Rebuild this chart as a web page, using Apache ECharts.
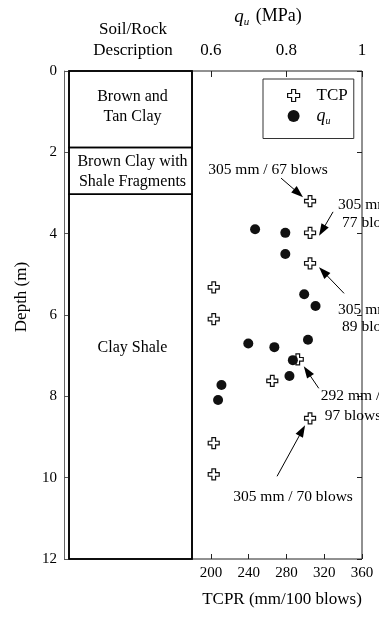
<!DOCTYPE html>
<html>
<head>
<meta charset="utf-8">
<script src="https://cdn.jsdelivr.net/npm/echarts@6/dist/echarts.min.js"></script>
<style>
  html, body { margin: 0; padding: 0; background: #fff; }
  #chart { width: 379px; height: 617px; }
</style>
</head>
<body>
<div id="chart"></div>
<script>
// Soil profile (depths in m)
const layerTop = [0, 1.88, 3.03];
const layerBottom = [1.88, 3.03, 12];
const layerNames = ['Brown and\nTan Clay', 'Brown Clay with\nShale Fragments', 'Clay Shale'];
const layerLabelDepth = [0.88, 2.48, 6.8];

// TCP penetration rate (mm/100 blows) against depth (m)
const tcpDepth = [3.20, 3.98, 4.73, 5.32, 6.10, 7.09, 7.62, 8.54, 9.15, 9.92];
const tcpRate = [305, 305, 305, 203, 203, 292, 265, 305, 203, 203];

// Unconfined compressive strength q_u (MPa) against depth (m)
const quDepth = [3.89, 3.98, 4.50, 5.49, 5.78, 6.61, 6.70, 6.79, 7.11, 7.50, 7.72, 8.09];
const quValue = [0.717, 0.797, 0.797, 0.847, 0.877, 0.857, 0.699, 0.768, 0.817, 0.808, 0.628, 0.619];

// Tick labels
const depthTicks = [0, 2, 4, 6, 8, 10, 12];
const tcprTicks = [200, 240, 280, 320, 360];
const quTicks = [0.6, 0.8, 1.0];

// Tests that reached refusal before 100 blows
const noteIndex = [0, 1, 2, 5, 7];
const noteLines = [
  ['305 mm / 67 blows'],
  ['305 mm /', '77 blows'],
  ['305 mm /', '89 blows'],
  ['292 mm /', '97 blows'],
  ['305 mm / 70 blows']
];

// Pixel offsets (from the marker) of each note's text and arrow
const noteLayout = [
  { text: [[-42, -31]], align: 'center', tail: [-29, -23], head: [-7, -4] },
  { text: [[28, -28], [32, -10]], align: 'left', tail: [23, -21], head: [9, 3] },
  { text: [[28, 47], [32, 64]], align: 'left', tail: [34, 30], head: [9, 4] },
  { text: [[23, 37], [27, 57]], align: 'left', tail: [21, 29], head: [6, 7] },
  { text: [[-17, 79]], align: 'center', tail: [-33, 58], head: [-5, 7] }
];

const FONT = '"Liberation Serif", "DejaVu Serif", serif';
const crossPath = 'path://M4,0 H8 V4 H12 V8 H8 V12 H4 V8 H0 V4 H4 Z';

const chart = echarts.init(document.getElementById('chart'), null, { renderer: 'canvas' });

const layerData = layerTop.map((t, i) => [t, layerBottom[i], layerLabelDepth[i], layerNames[i]]);

const option = {
  animation: false,
  textStyle: { fontFamily: FONT, color: '#000' },
  grid: [
    { left: 69, top: 71, width: 123, height: 488, show: true, borderColor: '#000', borderWidth: 1.5, backgroundColor: 'transparent' },
    { left: 192, top: 71, width: 170, height: 488, show: true, borderColor: '#222', borderWidth: 1, backgroundColor: 'transparent' }
  ],
  xAxis: [
    {
      gridIndex: 0, type: 'value', min: 0, max: 1, position: 'top',
      axisLine: { show: false, onZero: false }, axisTick: { show: false }, axisLabel: { show: false }, splitLine: { show: false },
      name: 'Soil/Rock\nDescription', nameLocation: 'middle', nameGap: 10,
      nameTextStyle: { fontFamily: FONT, fontSize: 17, lineHeight: 21, color: '#000', padding: [0, 0, 0, 5] }
    },
    {
      gridIndex: 1, type: 'value', min: 180, max: 360, position: 'bottom',
      axisLine: { show: false, onZero: false },
      axisTick: { show: true, inside: true, length: 5, customValues: tcprTicks, lineStyle: { color: '#222' } },
      axisLabel: { show: true, customValues: tcprTicks, margin: 7, fontFamily: FONT, fontSize: 15, color: '#000' },
      splitLine: { show: false },
      name: 'TCPR (mm/100 blows)', nameLocation: 'middle', nameGap: 32,
      nameTextStyle: { fontFamily: FONT, fontSize: 17, color: '#000', padding: [0, 0, 0, 10] }
    },
    {
      gridIndex: 1, type: 'value', min: 0.55, max: 1.0, position: 'top',
      axisLine: { show: false, onZero: false },
      axisTick: { show: false },
      axisLabel: { show: true, customValues: quTicks, margin: 12, fontFamily: FONT, fontSize: 17, color: '#000',
        formatter: v => String(Math.round(v * 10) / 10) },
      splitLine: { show: false },
      name: '{q|q}{u|u} (MPa)', nameLocation: 'middle', nameGap: 43,
      nameTextStyle: {
        fontFamily: FONT, fontSize: 18, color: '#000', padding: [0, 18, 0, 0],
        rich: {
          q: { fontFamily: FONT, fontStyle: 'italic', fontSize: 19, color: '#000' },
          u: { fontFamily: FONT, fontStyle: 'italic', fontSize: 11, color: '#000', padding: [12, 2, 0, 0] }
        }
      }
    }
  ],
  yAxis: [
    {
      gridIndex: 0, type: 'value', inverse: true, min: 0, max: 12, interval: 2, offset: 5, position: 'left',
      axisLine: { show: true, onZero: false, lineStyle: { color: '#666', width: 1 } },
      axisTick: { show: true, inside: true, length: 5, lineStyle: { color: '#555' } },
      axisLabel: { show: true, margin: 7, fontFamily: FONT, fontSize: 15, color: '#000',
        customValues: depthTicks },
      splitLine: { show: false },
      name: 'Depth (m)', nameLocation: 'middle', nameGap: 34, nameRotate: 90,
      nameTextStyle: { fontFamily: FONT, fontSize: 17, color: '#000', padding: [0, 0, 0, 36] }
    },
    {
      gridIndex: 1, type: 'value', inverse: true, min: 0, max: 12, interval: 2, position: 'right',
      axisLine: { show: false, onZero: false },
      axisTick: { show: true, inside: true, length: 5, lineStyle: { color: '#222' } },
      axisLabel: { show: false },
      splitLine: { show: false }
    }
  ],
  legend: {
    orient: 'vertical', left: 263, top: 79,
    padding: [8, 6, 12, 24],
    borderColor: '#333', borderWidth: 1,
    itemWidth: 12, itemHeight: 12, itemGap: 3,
    textStyle: {
      fontFamily: FONT, fontSize: 17, color: '#000', padding: [0, 0, 0, 12],
      rich: {
        q: { fontFamily: FONT, fontStyle: 'italic', fontSize: 18, color: '#000' },
        u: { fontFamily: FONT, fontStyle: 'italic', fontSize: 10, color: '#000', padding: [11, 0, 0, 0] }
      }
    },
    formatter: name => name === 'TCP' ? 'TCP' : '{q|q}{u|u}',
    data: [
      { name: 'TCP', icon: crossPath, itemStyle: { color: '#fff', borderColor: '#111', borderWidth: 1.2 } },
      { name: 'qu', icon: 'circle', itemStyle: { color: '#111' } }
    ]
  },
  series: [
    {
      type: 'custom', name: 'layers', xAxisIndex: 0, yAxisIndex: 0, silent: true,
      data: layerData,
      renderItem: (params, api) => {
        const p0 = api.coord([0, api.value(0)]);
        const p1 = api.coord([1, api.value(1)]);
        const pl = api.coord([0.5, api.value(2)]);
        return {
          type: 'group',
          children: [
            { type: 'rect', shape: { x: p0[0], y: p0[1], width: p1[0] - p0[0], height: p1[1] - p0[1] },
              style: { fill: 'none', stroke: '#000', lineWidth: 1.5 } },
            { type: 'text', x: pl[0] + 2, y: pl[1],
              style: { text: layerNames[params.dataIndex], fontFamily: FONT, fontSize: 16, lineHeight: 20,
                fill: '#000', align: 'center', verticalAlign: 'middle' } }
          ]
        };
      }
    },
    {
      type: 'scatter', name: 'TCP', xAxisIndex: 1, yAxisIndex: 1,
      symbol: crossPath, symbolSize: 11,
      itemStyle: { color: '#fff', borderColor: '#111', borderWidth: 1.2, opacity: 1 },
      data: tcpRate.map((r, i) => [r, tcpDepth[i]]),
      z: 3
    },
    {
      type: 'scatter', name: 'qu', xAxisIndex: 2, yAxisIndex: 1,
      symbol: 'circle', symbolSize: 10,
      itemStyle: { color: '#111', opacity: 1 },
      data: quValue.map((q, i) => [q, quDepth[i]]),
      z: 4
    }
  ]
};

chart.setOption(option);

// Inward ticks on the q_u scale, the arrows and the refusal notes
function buildOverlay() {
  const elements = [];
  quTicks.forEach(q => {
    const p = chart.convertToPixel({ xAxisIndex: 2, yAxisIndex: 1 }, [q, 0]);
    elements.push({
      type: 'line', z: 10,
      shape: { x1: Math.round(p[0]) + 0.5, y1: p[1], x2: Math.round(p[0]) + 0.5, y2: p[1] + 6 },
      style: { stroke: '#222', lineWidth: 1 }
    });
  });
  noteIndex.forEach((idx, k) => {
    const p = chart.convertToPixel({ xAxisIndex: 1, yAxisIndex: 1 }, [tcpRate[idx], tcpDepth[idx]]);
    const lay = noteLayout[k];
    noteLines[k].forEach((line, j) => {
      elements.push({
        type: 'text', x: p[0] + lay.text[j][0], y: p[1] + lay.text[j][1], z: 10,
        style: { text: line, fontFamily: FONT, fontSize: 15.5, fill: '#000', align: lay.align, verticalAlign: 'middle' }
      });
    });
    const tx = p[0] + lay.tail[0], ty = p[1] + lay.tail[1];
    const hx = p[0] + lay.head[0], hy = p[1] + lay.head[1];
    const dx = hx - tx, dy = hy - ty, len = Math.hypot(dx, dy);
    const ux = dx / len, uy = dy / len;
    const L = 12, W = 4.2;
    const bx = hx - ux * L, by = hy - uy * L;
    elements.push({
      type: 'line', z: 10,
      shape: { x1: tx, y1: ty, x2: bx + ux * 2, y2: by + uy * 2 },
      style: { stroke: '#000', lineWidth: 1 }
    });
    elements.push({
      type: 'polygon', z: 10,
      shape: { points: [[hx, hy], [bx - uy * W, by + ux * W], [bx + uy * W, by - ux * W]] },
      style: { fill: '#000' }
    });
  });
  chart.setOption({ graphic: { elements } });
}
buildOverlay();
</script>
</body>
</html>
